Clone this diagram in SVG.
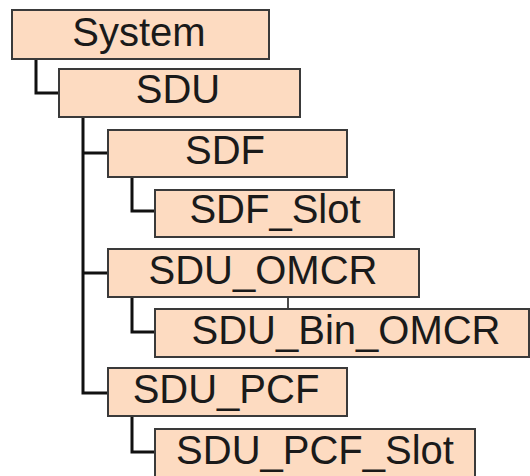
<svg xmlns="http://www.w3.org/2000/svg" width="530" height="476" viewBox="0 0 530 476">
<style>
.box{fill:#fddbc1;stroke:#3a3a3a;stroke-width:2}
.lbl{font-family:"Liberation Sans",Arial,sans-serif;font-size:40px;fill:#1a1a1a;text-anchor:middle}
.con{fill:none;stroke:#111;stroke-width:3}
</style>
<rect width="530" height="476" fill="#fff"/>
<g id="connectors">
<path class="con" d="M36 59 V93 H59"/>
<path class="con" d="M83 117 V393 H108 M83 153 H108 M83 273 H108"/>
<path class="con" d="M132 177 V211 H155"/>
<path class="con" d="M132 297 V332 H155"/>
<path class="con" d="M132 416 V452 H155"/>
<path fill="none" stroke="#111" stroke-width="1.5" d="M288 297 V309"/>
</g>
<g id="System"><rect class="box" x="12" y="10" width="257" height="49"/><text class="lbl" x="139" y="46">System</text></g>
<g id="SDU"><rect class="box" x="59" y="69" width="241" height="48"/><text class="lbl" x="178" y="103">SDU</text></g>
<g id="SDF"><rect class="box" x="108" y="130" width="239" height="47"/><text class="lbl" x="225" y="164">SDF</text></g>
<g id="SDF_Slot"><rect class="box" x="155" y="190" width="239" height="47"/><text class="lbl" x="275" y="223">SDF_Slot</text></g>
<g id="SDU_OMCR"><rect class="box" x="108" y="249" width="311" height="48"/><text class="lbl" x="263" y="284">SDU_OMCR</text></g>
<g id="SDU_Bin_OMCR"><rect class="box" x="155" y="309" width="374" height="48"/><text class="lbl" x="346" y="344">SDU_Bin_OMCR</text></g>
<g id="SDU_PCF"><rect class="box" x="108" y="368" width="239" height="48"/><text class="lbl" x="226" y="403">SDU_PCF</text></g>
<g id="SDU_PCF_Slot"><rect class="box" x="155" y="429" width="320" height="50"/><text class="lbl" x="315" y="464">SDU_PCF_Slot</text></g>
</svg>
